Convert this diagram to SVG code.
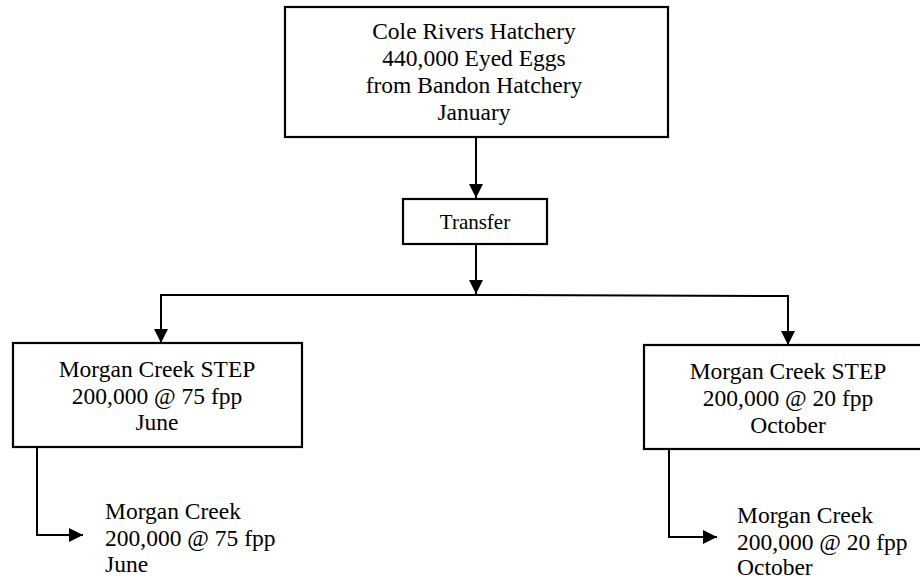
<svg xmlns="http://www.w3.org/2000/svg" width="920" height="582" viewBox="0 0 920 582">
<style>
.box{fill:#fff;stroke:#000;stroke-width:2.2}
text{font-family:'Liberation Serif','Times New Roman','DejaVu Serif',serif;font-size:23.5px;fill:#000}
.c{text-anchor:middle}
.ln{fill:none;stroke:#000;stroke-width:2}
</style>
<defs>
<marker id="ah2" viewBox="0 0 14 14" refX="14" refY="7" markerWidth="14" markerHeight="14" orient="auto" markerUnits="userSpaceOnUse">
<path d="M0,0 L14,7 L0,14 Z" fill="#000"/>
</marker>
</defs>
<rect width="920" height="582" fill="#fff"/>
<g id="connectors">
<line class="ln" x1="476" y1="137" x2="476" y2="198" marker-end="url(#ah2)"/>
<line class="ln" x1="476" y1="244" x2="476" y2="294" marker-end="url(#ah2)"/>
<polyline class="ln" points="161,300 161,295 476,295 788,296 788,345" marker-end="url(#ah2)"/>
<line class="ln" x1="161" y1="295" x2="161" y2="343" marker-end="url(#ah2)"/>
<polyline class="ln" points="37,447 37,535 83,535" marker-end="url(#ah2)"/>
<polyline class="ln" points="669,449 669,537 717,537" marker-end="url(#ah2)"/>
</g>
<g id="hatchery">
<rect class="box" x="285" y="7" width="383" height="130"/>
<text class="c" x="474" y="39" font-family="Liberation Serif, serif">Cole Rivers Hatchery</text>
<text class="c" x="474" y="66" font-family="Liberation Serif, serif">440,000 Eyed Eggs</text>
<text class="c" x="474" y="93" font-family="Liberation Serif, serif">from Bandon Hatchery</text>
<text class="c" x="474" y="120" font-family="Liberation Serif, serif">January</text>
</g>
<g id="transfer">
<rect class="box" x="403" y="199" width="144" height="45"/>
<text class="c" x="475" y="229" style="font-size:21px">Transfer</text>
</g>
<g id="step-june">
<rect class="box" x="13" y="343" width="289" height="104"/>
<text class="c" x="157" y="377">Morgan Creek STEP</text>
<text class="c" x="157" y="404">200,000 @ 75 fpp</text>
<text class="c" x="157" y="430">June</text>
</g>
<g id="step-october">
<rect class="box" x="644" y="345" width="289" height="104"/>
<text class="c" x="788" y="379">Morgan Creek STEP</text>
<text class="c" x="788" y="406">200,000 @ 20 fpp</text>
<text class="c" x="788" y="433">October</text>
</g>
<g id="release-june">
<text x="105" y="519">Morgan Creek</text>
<text x="105" y="546">200,000 @ 75 fpp</text>
<text x="105" y="572">June</text>
</g>
<g id="release-october">
<text x="737" y="523">Morgan Creek</text>
<text x="737" y="550">200,000 @ 20 fpp</text>
<text x="737" y="575">October</text>
</g>
</svg>
